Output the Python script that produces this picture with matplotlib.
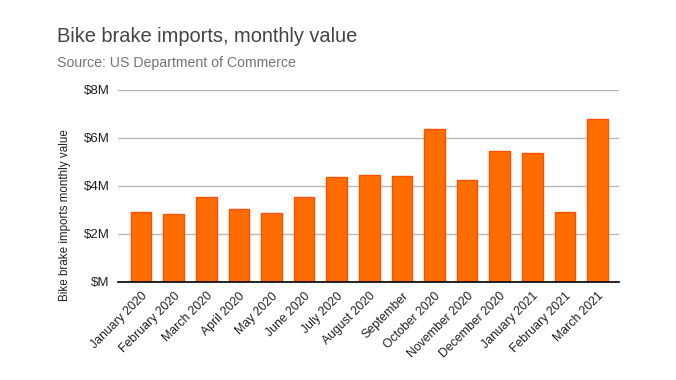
import matplotlib.pyplot as plt
import numpy as np

plt.rcParams['font.family'] = ['Liberation Sans', 'DejaVu Sans']

months = ['January 2020', 'February 2020', 'March 2020', 'April 2020', 'May 2020',
          'June 2020', 'July 2020', 'August 2020', 'September', 'October 2020',
          'November 2020', 'December 2020', 'January 2021', 'February 2021', 'March 2021']
values = [2.92, 2.81, 3.54, 3.02, 2.85, 3.54, 4.35, 4.46, 4.39, 6.37,
          4.22, 5.46, 5.35, 2.92, 6.79]  # $M
yticks = [0, 2, 4, 6, 8]
ytick_labels = ['$M', '$2M', '$4M', '$6M', '$8M']

fig = plt.figure(figsize=(6.76, 3.8), dpi=100)
ax = fig.add_axes([0.1746, 0.2587, 0.7411, 0.5053])

x = np.arange(len(months))
ax.bar(x, values, width=0.63, color='#ff6d01', edgecolor='#ff5000', linewidth=1.0, zorder=3)

ax.set_ylim(0, 8)
ax.set_xlim(-0.71, 14.66)
ax.set_yticks(yticks)
ax.set_yticklabels(ytick_labels, fontsize=9.5, color='#222222')
ax.set_xticks(x)
ax.set_xticklabels(months, rotation=45, ha='right', rotation_mode='anchor',
                   fontsize=8.8, color='#222222')
ax.tick_params(length=0)
ax.tick_params(axis='x', pad=6)
ax.tick_params(axis='y', pad=6)

ax.grid(axis='y', color='#b7b7b7', linewidth=1, zorder=0)
for s in ['top', 'right', 'left']:
    ax.spines[s].set_visible(False)
ax.spines['bottom'].set_color('#000000')
ax.spines['bottom'].set_linewidth(1.2)
ax.spines['bottom'].set_zorder(4)

ax.set_ylabel('Bike brake imports monthly value', fontsize=8.4, color='#222222')
ax.yaxis.set_label_coords(-0.094, 0.347)

fig.text(57 / 676, 1 - 42 / 380, 'Bike brake imports, monthly value',
         fontsize=14.4, color='#444444')
fig.text(57 / 676, 1 - 67 / 380, 'Source: US Department of Commerce',
         fontsize=10.2, color='#757575')

fig.savefig('out.png', dpi=100)
